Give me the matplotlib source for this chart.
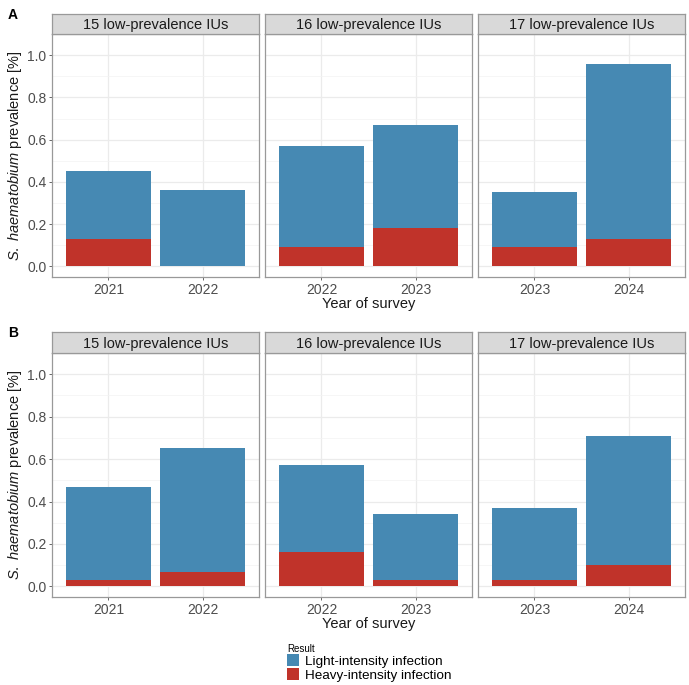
import numpy as np
import matplotlib
matplotlib.use("Agg")
import matplotlib.pyplot as plt
from matplotlib.patches import Patch

plt.rcParams['font.family'] = ['Liberation Sans', 'DejaVu Sans']
plt.rcParams['mathtext.fontset'] = 'custom'
plt.rcParams['mathtext.rm'] = 'Liberation Sans'
plt.rcParams['mathtext.it'] = 'Liberation Sans:italic'

# data
panel_titles = ["15 low-prevalence IUs", "16 low-prevalence IUs", "17 low-prevalence IUs"]
years = [["2021", "2022"], ["2022", "2023"], ["2023", "2024"]]
heavy_A = [[0.13, 0.00], [0.09, 0.18], [0.09, 0.13]]
light_A = [[0.32, 0.36], [0.48, 0.49], [0.26, 0.83]]
heavy_B = [[0.03, 0.07], [0.16, 0.03], [0.03, 0.10]]
light_B = [[0.44, 0.58], [0.41, 0.31], [0.34, 0.61]]
legend_labels = ["Light-intensity infection", "Heavy-intensity infection"]

col_light = "#4689B3"
col_heavy = "#C0332A"
W, H = 689, 685

fig = plt.figure(figsize=(W / 100, H / 100), dpi=100)

def px_axes(x0, y0, x1, y1):
    # pixel box (top-left origin) -> figure axes
    return fig.add_axes([x0 / W, 1 - y1 / H, (x1 - x0) / W, (y1 - y0) / H])

panel_x = [(52, 259), (265, 472), (478, 685)]
rows = [
    dict(tag="A", heavy=heavy_A, light=light_A, strip=(14, 34), plot=(34, 277), tagy=8),
    dict(tag="B", heavy=heavy_B, light=light_B, strip=(332, 353), plot=(353, 597), tagy=326),
]

for row in rows:
    for j, (x0, x1) in enumerate(panel_x):
        ax = px_axes(x0, row["plot"][0], x1, row["plot"][1])
        xs = np.arange(len(years[j]))
        hv = np.array(row["heavy"][j])
        lt = np.array(row["light"][j])
        ax.bar(xs, hv, width=0.9, color=col_heavy, zorder=3)
        ax.bar(xs, lt, bottom=hv, width=0.9, color=col_light, zorder=3)
        ax.set_xlim(-0.6, 1.6)
        ax.set_ylim(-0.05, 1.1)
        ax.set_yticks(np.arange(0, 1.01, 0.2))
        ax.set_yticks(np.arange(0.1, 1.01, 0.2), minor=True)
        ax.set_xticks(xs)
        ax.set_xticklabels(years[j])
        ax.grid(which="major", color="#EBEBEB", lw=0.9, zorder=0)
        ax.grid(which="minor", axis="y", color="#F3F3F3", lw=0.5, zorder=0)
        ax.set_axisbelow(True)
        for s in ax.spines.values():
            s.set_color("#999999")
            s.set_linewidth(0.9)
        ax.tick_params(which="major", length=2.5, color="#4D4D4D", labelcolor="#4D4D4D",
                       labelsize=10, width=0.6, pad=1.5)
        ax.tick_params(which="minor", length=0)
        if j == 0:
            ax.set_yticklabels(["0.0", "0.2", "0.4", "0.6", "0.8", "1.0"])
            ax.set_ylabel(r"$\it{S.\ haematobium}$ prevalence [%]", fontsize=10.5,
                          color="#1a1a1a", labelpad=2)
        else:
            ax.tick_params(axis="y", labelleft=False, left=False)
        if j == 1:
            ax.set_xlabel("Year of survey", fontsize=10.5, color="#1a1a1a", labelpad=0)
        # strip
        sax = px_axes(x0, row["strip"][0], x1, row["strip"][1])
        sax.set_facecolor("#D9D9D9")
        sax.set_xticks([])
        sax.set_yticks([])
        for s in sax.spines.values():
            s.set_color("#999999")
            s.set_linewidth(0.9)
        sax.text(0.5, 0.45, panel_titles[j], ha="center", va="center", fontsize=10.5,
                 color="#1a1a1a", transform=sax.transAxes)
    fig.text(8 / W, 1 - row["tagy"] / H, row["tag"], fontsize=10, fontweight="bold",
             ha="left", va="top")

handles = [Patch(facecolor=col_light, edgecolor="none"), Patch(facecolor=col_heavy, edgecolor="none")]
fig.legend(handles, legend_labels, title="Result", title_fontsize=7, fontsize=9.7,
           loc="upper left", bbox_to_anchor=(287 / W, 1 - 644 / H), frameon=False,
           alignment="left", labelspacing=0.0, handlelength=0.9, handleheight=1.05,
           handletextpad=0.4, borderpad=0, borderaxespad=0)

fig.savefig("out.png", dpi=100)
